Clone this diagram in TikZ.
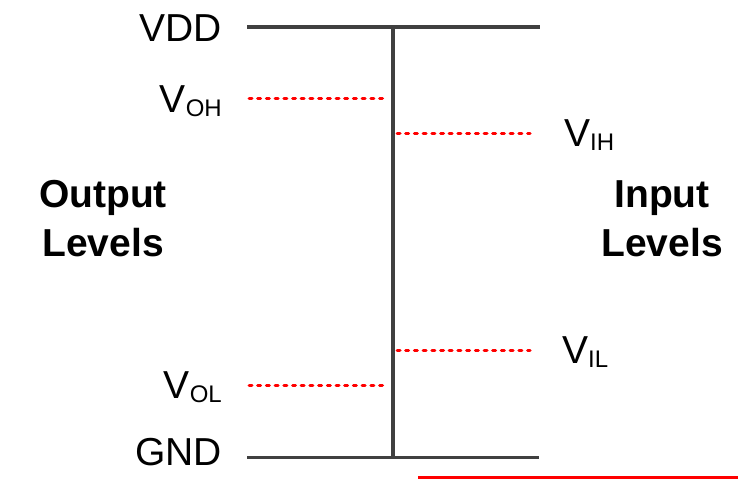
\documentclass[tikz,border=0pt]{standalone}
\usepackage{fontspec}
\setmainfont{Liberation Sans}
\newcommand{\subs}[1]{\raisebox{-4.5pt}{\fontsize{24}{24}\selectfont #1}}
\begin{document}
\begin{tikzpicture}[x=1pt,y=-1pt,
  rail/.style={draw=black!75,line width=3.5pt},
  lvl/.style={draw=red,line width=3pt,line cap=round,dash pattern=on 3pt off 5.7pt},
  lbl/.style={inner sep=0pt,font=\fontsize{39}{45}\selectfont},
  blbl/.style={inner sep=0pt,font=\fontsize{39}{45}\selectfont\bfseries,anchor=base}]
\useasboundingbox (0,0) rectangle (738,479);
% coordinates
\coordinate (top) at (393,27);
\coordinate (bot) at (393,458);
\coordinate (vddL) at (247,27);
\coordinate (vddR) at (540,27);
\coordinate (gndL) at (247,457.5);
\coordinate (gndR) at (539,457.5);
\coordinate (ohL) at (249,98);
\coordinate (ohR) at (387,98);
\coordinate (olL) at (249,385);
\coordinate (olR) at (387,385);
\coordinate (ihL) at (397,133);
\coordinate (ihR) at (530,133);
\coordinate (ilL) at (397,350);
\coordinate (ilR) at (530,350);
\coordinate (redL) at (418,477.5);
\coordinate (redR) at (740,477.5);
% rails
\draw[rail] (vddL) -- (vddR);
\draw[rail] (gndL) -- (gndR);
\draw[rail] (top) -- (bot);
% levels
\draw[lvl] (ohL) -- (ohR);
\draw[lvl] (olL) -- (olR);
\draw[lvl] (ihL) -- (ihR);
\draw[lvl] (ilL) -- (ilR);
\draw[red,line width=2.2pt] (redL) -- (redR);
% labels
\node[lbl,anchor=base east] (vdd) at (222,41) {VDD};
\node[lbl,anchor=base east] (gnd) at (222,465) {GND};
\node[lbl,anchor=base east] (voh) at (222,112) {V\subs{OH}};
\node[lbl,anchor=base east] (vol) at (222,398) {V\subs{OL}};
\node[lbl,anchor=base west] (vih) at (564,146) {V\subs{IH}};
\node[lbl,anchor=base west] (vil) at (562,363) {V\subs{IL}};
\node[blbl] (out1) at (103,207) {Output};
\node[blbl] (out2) at (103,256) {Levels};
\node[blbl] (in1) at (662,207) {Input};
\node[blbl] (in2) at (662,256) {Levels};
\end{tikzpicture}
\end{document}
